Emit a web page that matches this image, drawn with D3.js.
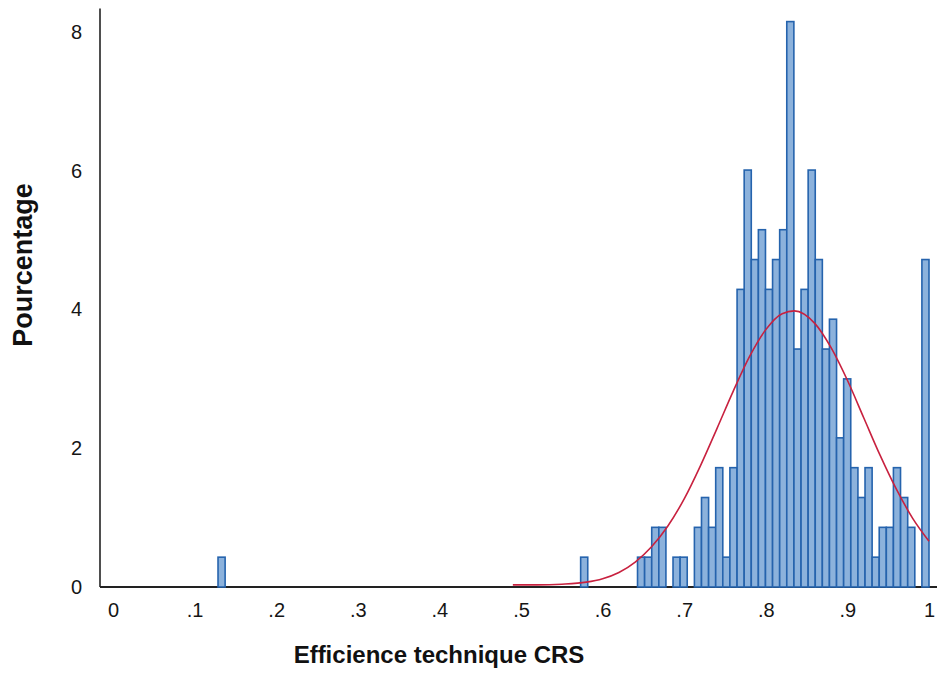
<!DOCTYPE html>
<html>
<head>
<meta charset="utf-8">
<script src="https://cdn.jsdelivr.net/npm/d3@7"></script>
<style>
  html, body { margin: 0; padding: 0; background: #ffffff; }
  svg { display: block; }
</style>
</head>
<body>
<svg id="chart" width="937" height="693"></svg>
<script>
// ---- Data ----
// Histogram bins: left edge of each non-empty bin and its percentage
const binLeft = [0.1287, 0.5731, 0.6428, 0.6515, 0.6602, 0.6689, 0.6863, 0.6950,
  0.7125, 0.7212, 0.7299, 0.7386, 0.7473, 0.7560, 0.7648, 0.7735, 0.7822, 0.7909,
  0.7996, 0.8083, 0.8170, 0.8257, 0.8345, 0.8432, 0.8519, 0.8606, 0.8693, 0.8780,
  0.8867, 0.8954, 0.9042, 0.9129, 0.9216, 0.9303, 0.9390, 0.9477, 0.9564, 0.9652,
  0.9739, 0.9913];
const percent = [0.43, 0.43, 0.43, 0.43, 0.86, 0.86, 0.43, 0.43,
  0.86, 1.29, 0.86, 1.72, 0.43, 1.72, 4.29, 6.01, 4.72, 5.15,
  4.29, 4.72, 5.15, 8.15, 3.43, 4.29, 6.01, 4.72, 3.43, 3.86,
  2.15, 3.00, 1.72, 1.29, 1.72, 0.43, 0.86, 0.86, 1.72, 1.29,
  0.86, 4.72];
const binWidth = 0.0087;

// Normal curve, points
const curveX = [0.49, 0.52, 0.55, 0.58, 0.60, 0.62, 0.64, 0.66, 0.68, 0.70, 0.72, 0.74,
  0.76, 0.78, 0.80, 0.82, 0.835, 0.86, 0.88, 0.90, 0.92, 0.94, 0.96, 0.98, 1.00];
const curveY = [0.03, 0.03, 0.04, 0.07, 0.12, 0.21, 0.36, 0.58, 0.88, 1.27, 1.75, 2.28,
  2.82, 3.32, 3.71, 3.94, 3.98, 3.80, 3.45, 2.98, 2.44, 1.90, 1.41, 0.99, 0.66];

const xTicks = [0, 0.1, 0.2, 0.3, 0.4, 0.5, 0.6, 0.7, 0.8, 0.9, 1];
const xTickLabels = ["0", ".1", ".2", ".3", ".4", ".5", ".6", ".7", ".8", ".9", "1"];
const yTicks = [0, 2, 4, 6, 8];
const xTitle = "Efficience technique CRS";
const yTitle = "Pourcentage";

// ---- Drawing ----
const svg = d3.select("#chart");
const x = d3.scaleLinear().domain([0, 1]).range([113, 929]);
const y = d3.scaleLinear().domain([0, 8]).range([587, 32]);
const axisLeftX = 100;

// axis lines
svg.append("line")
  .attr("x1", axisLeftX).attr("x2", axisLeftX)
  .attr("y1", y(8.34)).attr("y2", y(0))
  .attr("stroke", "#222").attr("stroke-width", 1.6);
svg.append("line")
  .attr("x1", axisLeftX).attr("x2", 937)
  .attr("y1", y(0)).attr("y2", y(0))
  .attr("stroke", "#222").attr("stroke-width", 1.8);

// bars
svg.append("g").selectAll("rect")
  .data(binLeft.map((b, i) => ({ b, p: percent[i] })))
  .join("rect")
  .attr("x", d => x(d.b))
  .attr("width", d => x(d.b + binWidth) - x(d.b))
  .attr("y", d => y(d.p))
  .attr("height", d => y(0) - y(d.p))
  .attr("fill", "#8cb2dc")
  .attr("stroke", "#2563ad")
  .attr("stroke-width", 1.6);

// normal curve
const line = d3.line()
  .x((d, i) => x(curveX[i]))
  .y((d, i) => y(curveY[i]))
  .curve(d3.curveMonotoneX);
svg.append("path")
  .attr("d", line(curveX))
  .attr("fill", "none")
  .attr("stroke", "#c8213f")
  .attr("stroke-width", 1.6);

// y axis tick labels
const yAxis = d3.axisLeft(y).tickValues(yTicks).tickSize(0).tickPadding(0).tickFormat(d3.format("d"));
const gy = svg.append("g").attr("transform", `translate(82,0)`).call(yAxis);
gy.select(".domain").remove();
gy.selectAll("text")
  .attr("font-family", "'Liberation Sans', Arial, sans-serif")
  .attr("font-size", 20).attr("fill", "#151515");

// x axis tick labels
const xAxis = d3.axisBottom(x).tickValues(xTicks).tickSize(0).tickPadding(0)
  .tickFormat((d, i) => xTickLabels[i]);
const gx = svg.append("g").attr("transform", `translate(0,603)`).call(xAxis);
gx.select(".domain").remove();
gx.selectAll("text")
  .attr("font-family", "'Liberation Sans', Arial, sans-serif")
  .attr("font-size", 20).attr("fill", "#151515");

// titles
svg.append("text")
  .attr("x", 439).attr("y", 663)
  .attr("text-anchor", "middle")
  .attr("font-family", "'Liberation Sans', Arial, sans-serif")
  .attr("font-weight", "bold").attr("font-size", 24)
  .attr("fill", "#111")
  .text(xTitle);
svg.append("text")
  .attr("transform", "translate(32,265) rotate(-90)")
  .attr("text-anchor", "middle")
  .attr("font-family", "'Liberation Sans', Arial, sans-serif")
  .attr("font-weight", "bold").attr("font-size", 27)
  .attr("fill", "#111")
  .text(yTitle);
</script>
</body>
</html>
